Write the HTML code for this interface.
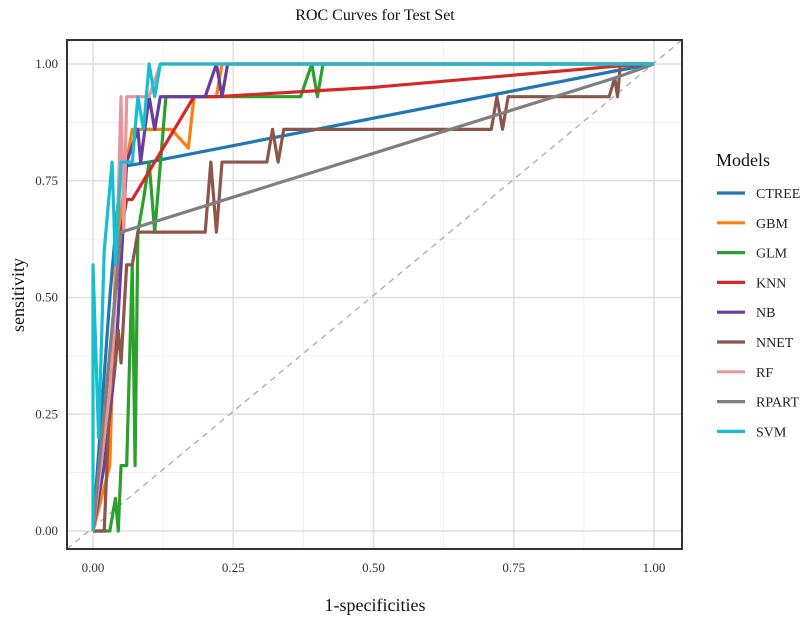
<!DOCTYPE html>
<html><head><meta charset="utf-8"><style>
body{margin:0;background:#fff;font-family:"Liberation Serif",serif}
</style></head><body>
<svg id="c" width="807" height="619" xmlns="http://www.w3.org/2000/svg"></svg>
<script>
const models=["CTREE","GBM","GLM","KNN","NB","NNET","RF","RPART","SVM"];
const colors=["#1f77b4","#ff7f0e","#2ca02c","#d62728","#6a3d9a","#8c564b","#e7969c","#7f7f7f","#17becf"];
const xTicks=[0,0.25,0.5,0.75,1];
const yTicks=[0,0.25,0.5,0.75,1];
const fprCTREE=[0,0.03,0.05,0.1,0.93,1];
const tprCTREE=[0,0.5,0.78,0.79,0.985,1];
const fprGBM=[0,0.03,0.04,0.06,0.07,0.14,0.17,0.18,0.22,0.23,1];
const tprGBM=[0,0.14,0.57,0.79,0.86,0.86,0.82,0.93,0.93,1,1];
const fprGLM=[0,0.03,0.04,0.045,0.05,0.06,0.07,0.075,0.08,0.09,0.1,0.11,0.13,0.37,0.39,0.4,0.41,1];
const tprGLM=[0,0,0.07,0,0.14,0.14,0.57,0.14,0.64,0.71,0.79,0.64,0.93,0.93,1,0.93,1,1];
const fprKNN=[0,0.04,0.05,0.06,0.07,0.18,0.22,0.5,0.93,1];
const tprKNN=[0,0.5,0.64,0.71,0.71,0.93,0.93,0.95,0.995,1];
const fprNB=[0,0.02,0.04,0.05,0.06,0.08,0.085,0.1,0.11,0.12,0.2,0.22,0.23,0.24,1];
const tprNB=[0,0.14,0.36,0.57,0.79,0.86,0.79,0.93,0.86,0.93,0.93,1,0.93,1,1];
const fprNNET=[0,0.02,0.03,0.04,0.045,0.05,0.06,0.07,0.08,0.2,0.21,0.22,0.23,0.31,0.32,0.33,0.34,0.71,0.72,0.73,0.74,0.92,0.93,0.935,0.94,1];
const tprNNET=[0,0,0.29,0.36,0.43,0.36,0.57,0.57,0.64,0.64,0.79,0.64,0.79,0.79,0.86,0.79,0.86,0.86,0.93,0.86,0.93,0.93,0.97,0.93,1,1];
const fprRF=[0,0.03,0.04,0.05,0.055,0.06,0.1,0.12,1];
const tprRF=[0,0.3,0.5,0.93,0.64,0.93,0.93,1,1];
const fprRPART=[0,0.05,0.93,1];
const tprRPART=[0,0.64,0.97,1];
const fprSVM=[0,0,0.01,0.02,0.034,0.04,0.05,0.07,0.08,0.09,0.1,0.11,0.12,1];
const tprSVM=[0,0.57,0.2,0.6,0.79,0.57,0.79,0.79,0.93,0.86,1,0.93,1,1];
const fprs=[fprCTREE,fprGBM,fprGLM,fprKNN,fprNB,fprNNET,fprRF,fprRPART,fprSVM];
const tprs=[tprCTREE,tprGBM,tprGLM,tprKNN,tprNB,tprNNET,tprRF,tprRPART,tprSVM];

const NS="http://www.w3.org/2000/svg",svg=document.getElementById('c');
const L=67,R=682,T=40,B=549;
const X=v=>93+v*561, Y=v=>531-v*467;
function mk(t,a,p){const e=document.createElementNS(NS,t);for(const k in a)e.setAttribute(k,a[k]);(p||svg).appendChild(e);return e;}
mk('rect',{x:L,y:T,width:R-L,height:B-T,fill:'#fff'});
// grid minor
for(let i=0;i<4;i++){const v=0.125+i*0.25;
 const g1=mk('line',{x1:X(v),x2:X(v),y1:T,y2:B,stroke:'#f0f0f0','stroke-width':1});
 
 const g2=mk('line',{x1:L,x2:R,y1:Y(v),y2:Y(v),stroke:'#f0f0f0','stroke-width':1});
 }
xTicks.forEach(v=>{const g=mk('line',{x1:X(v),x2:X(v),y1:T,y2:B,stroke:'#e0e0e0','stroke-width':1.6});
 
 const t=mk('text',{x:X(v),y:572,'text-anchor':'middle','font-size':13,fill:'#333'});t.textContent=v.toFixed(2);
 });
yTicks.forEach(v=>{const g=mk('line',{x1:L,x2:R,y1:Y(v),y2:Y(v),stroke:'#e0e0e0','stroke-width':1.6});
 
 const t=mk('text',{x:58,y:Y(v)+4,'text-anchor':'end','font-size':13,fill:'#333'});t.textContent=v.toFixed(2);
 });
const d=mk('line',{x1:L,y1:B,x2:R,y2:T,stroke:'#aaa','stroke-width':1.3,'stroke-dasharray':'6,5'});

models.forEach((m,i)=>{const pts=fprs[i].map((f,j)=>X(f)+','+Y(tprs[i][j])).join(' ');
 const p=mk('polyline',{points:pts,fill:'none',stroke:colors[i],'stroke-width':3.2,'stroke-linejoin':'round'});
 
 const ly=193+i*29.8;
 const k=mk('line',{x1:717,x2:745,y1:ly,y2:ly,stroke:colors[i],'stroke-width':3.2});
 
 const t=mk('text',{x:756,y:ly+5,'font-size':14,fill:'#222'});t.textContent=m;
 });
const br=mk('rect',{x:L,y:T,width:R-L,height:B-T,fill:'none',stroke:'#333','stroke-width':2});

const tt=mk('text',{x:375,y:20,'text-anchor':'middle','font-size':16,fill:'#111'});tt.textContent='ROC Curves for Test Set';

const xt=mk('text',{x:375,y:611,'text-anchor':'middle','font-size':18,fill:'#111'});xt.textContent='1-specificities';

const yt=mk('text',{x:0,y:0,'text-anchor':'middle','font-size':18,fill:'#111',transform:'translate(24,295) rotate(-90)'});yt.textContent='sensitivity';

const lt=mk('text',{x:716,y:166,'font-size':18,fill:'#111'});lt.textContent='Models';

</script>
</body></html>
